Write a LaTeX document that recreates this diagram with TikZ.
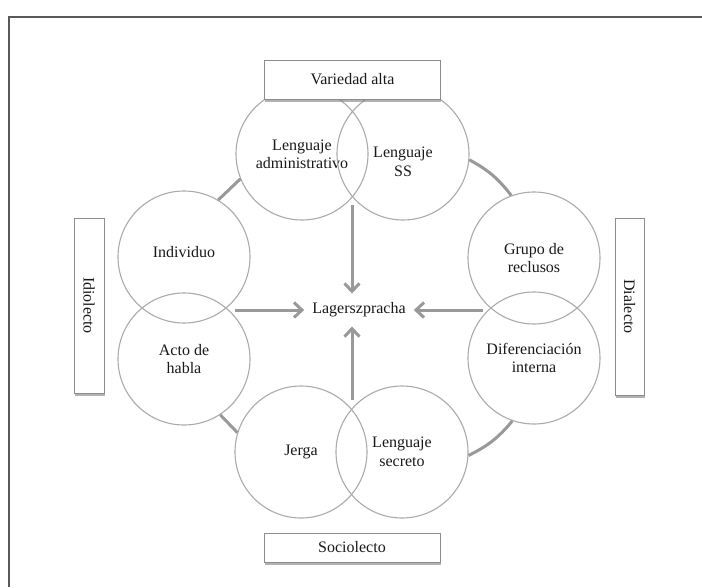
\documentclass[tikz,border=0pt]{standalone}
\usepackage{fontspec}
\setmainfont{Liberation Serif}
\usetikzlibrary{shadows,arrows.meta}
\begin{document}
\begin{tikzpicture}[x=1pt,y=-1pt,
  bub/.style={circle, draw=black!33, line width=1.1pt, minimum size=132pt, inner sep=0pt, align=center, font=\fontsize{16}{18.5}\selectfont, text=black!90},
  lab/.style={draw=black!45, fill=white, line width=0.8pt, inner sep=0pt, font=\fontsize{16}{18.5}\selectfont, text=black!90,
    drop shadow={shadow xshift=0.8pt, shadow yshift=-3pt, fill=black!50, opacity=0.6}},
  link/.style={draw=black!40, line width=3pt},
  arr/.style={draw=black!40, line width=3pt, -{Straight Barb[length=8pt,width=15pt]}}]
\fill[white] (0,0) rectangle (702,587);
\useasboundingbox (0,0) rectangle (702,587);
\draw[black!65, line width=1.8pt] (9,587) -- (9,17) -- (702,17);

% circles
\node[bub, text depth=-10pt] (adm) at (302,154) {Lenguaje\\administrativo};
\node[bub] (ss) at (403,154) {};
\node[font=\fontsize{16}{18.5}\selectfont, text=black!90, align=center, inner sep=0pt] (sst) at (403,162) {Lenguaje\\SS};
\node[bub] (ind) at (184,257) {};
\node[font=\fontsize{16}{18.5}\selectfont, text=black!90, inner sep=0pt] (indt) at (184,252) {Individuo};
\node[bub] (acto) at (184,359) {Acto de\\habla};
\node[bub] (grupo) at (534,258) {Grupo de\\reclusos};
\node[bub] (dif) at (534,358) {Diferenciación\\interna};
\node[bub] (jerga) at (301,452) {Jerga};
\node[bub] (secreto) at (402,452) {Lenguaje\\secreto};

% connectors of the cycle
\draw[link] (ind.59) -- (adm.202);
\draw[link] (ss.355) to[bend left=12] (grupo.110);
\draw[link] (dif.251) to[bend left=12] (secreto.357);
\draw[link] (jerga.163) -- (acto.303);

% centre and arrows
\node[font=\fontsize{16}{18.5}\selectfont, text=black!90, inner xsep=8pt, inner ysep=9pt] (lag) at (359,310) {Lagerszpracha};
\coordinate (dtop) at (352,205);
\coordinate (dbot) at (352,400);
\coordinate (dl) at (235,310);
\coordinate (dr) at (483,310);
\draw[arr] (dtop) -- (dtop |- lag.north);
\draw[arr] (dbot) -- (dbot |- lag.south);
\draw[arr] (dl) -- (dl -| lag.west);
\draw[arr] (dr) -- (dr -| lag.east);

% label boxes
\node[lab, minimum width=176pt, minimum height=39pt] (va) at (352.5,79.5) {Variedad alta};
\node[lab, minimum width=176pt, minimum height=29pt] (soc) at (352,547.5) {Sociolecto};
\node[lab, minimum width=30pt, minimum height=175pt] (idio) at (89,305.5) {\rotatebox{-90}{Idiolecto}};
\node[lab, minimum width=29pt, minimum height=177pt] (dia) at (629.5,306.5) {\rotatebox{-90}{Dialecto}};
\end{tikzpicture}
\end{document}
